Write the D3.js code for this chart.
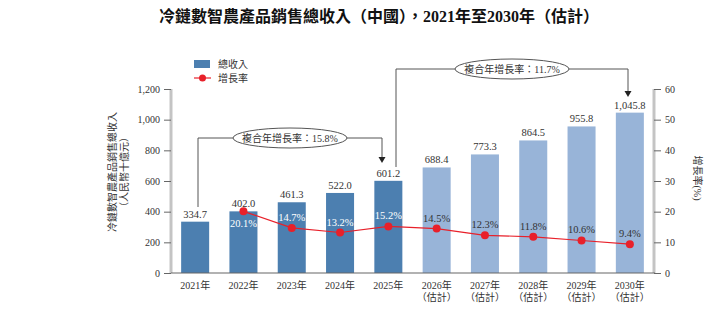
<!DOCTYPE html>
<html>
  <head>
    <meta charset="utf-8" />
    <script src="https://d3js.org/d3.v7.min.js"></script>
    <style>
      body { margin: 0; background: #fff; }
      text { font-family: "Liberation Serif", "Noto Sans CJK TC", serif; fill: #333; }
    </style>
  </head>
  <body>
    <div id="chart"></div>
    <script>
      // data
      var years = ["2021", "2022", "2023", "2024", "2025", "2026", "2027", "2028", "2029", "2030"];
      var estimated = [false, false, false, false, false, true, true, true, true, true];
      var revenue = [334.7, 402.0, 461.3, 522.0, 601.2, 688.4, 773.3, 864.5, 955.8, 1045.8];
      var growth = [null, 20.1, 14.7, 13.2, 15.2, 14.5, 12.3, 11.8, 10.6, 9.4];
      var leftTicks = [0, 200, 400, 600, 800, 1000, 1200];
      var rightTicks = [0, 10, 20, 30, 40, 50, 60];
      var cagrs = [
        { label: "複合年增長率：15.8%", from: 0, to: 4 },
        { label: "複合年增長率：11.7%", from: 4, to: 9 }
      ];

      var width = 728, height = 309;
      var pLeft = 171, pRight = 654, pTop = 89, pBottom = 273;

      var svg = d3.select("#chart").append("svg")
        .attr("width", width).attr("height", height);

      var x = d3.scaleBand().domain(years).range([pLeft, pRight]).paddingInner(0.42).paddingOuter(0.21);
      var y = d3.scaleLinear().domain([0, 1200]).range([pBottom, pTop]);
      var y2 = d3.scaleLinear().domain([0, 60]).range([pBottom, pTop]);
      var cx = function (i) { return x(years[i]) + x.bandwidth() / 2; };

      // title
      svg.append("text")
        .attr("x", 379).attr("y", 22)
        .attr("text-anchor", "middle")
        .style("font-size", "16px").style("font-weight", "bold").style("fill", "#111")
        .text("冷鏈數智農產品銷售總收入（中國），2021年至2030年（估計）");

      // bars
      svg.append("g").selectAll("rect")
        .data(revenue).enter().append("rect")
        .attr("x", function (d, i) { return x(years[i]); })
        .attr("y", function (d) { return y(d); })
        .attr("width", x.bandwidth())
        .attr("height", function (d) { return pBottom - y(d); })
        .attr("fill", function (d, i) { return estimated[i] ? "#98b4d8" : "#4c7fb0"; });

      // value labels
      svg.append("g").selectAll("text")
        .data(revenue).enter().append("text")
        .attr("x", function (d, i) { return cx(i); })
        .attr("y", function (d) { return y(d) - 4; })
        .attr("text-anchor", "middle")
        .style("font-size", "10.5px")
        .text(function (d) { return d3.format(",.1f")(d); });

      // axes
      var yAxis = svg.append("g").attr("transform", "translate(" + pLeft + ",0)")
        .call(d3.axisLeft(y).tickValues(leftTicks).tickSize(7).tickPadding(4).tickFormat(d3.format(",")));
      var y2Axis = svg.append("g").attr("transform", "translate(" + pRight + ",0)")
        .call(d3.axisRight(y2).tickValues(rightTicks).tickSize(7).tickPadding(4));
      [yAxis, y2Axis].forEach(function (g) {
        g.select(".domain").attr("stroke", "#c4c4c4").attr("stroke-width", 3)
          .attr("d", "M0," + pTop + "V" + pBottom);
        g.selectAll(".tick line").attr("stroke", "#666");
        g.selectAll(".tick text").style("font-size", "10px").style("fill", "#333")
          .style("font-family", "'Liberation Serif', serif");
      });

      svg.append("line")
        .attr("x1", pLeft).attr("x2", pRight + 1)
        .attr("y1", pBottom).attr("y2", pBottom)
        .attr("stroke", "#666").attr("stroke-width", 1.2);

      // x labels
      var xl = svg.append("g").selectAll("g").data(years).enter().append("g");
      xl.append("text")
        .attr("x", function (d, i) { return cx(i); })
        .attr("y", 289)
        .attr("text-anchor", "middle").style("font-size", "10px")
        .text(function (d) { return d + "年"; });
      xl.filter(function (d, i) { return estimated[i]; }).append("text")
        .attr("x", function (d) { return x(d) + x.bandwidth() / 2; })
        .attr("y", 301)
        .attr("text-anchor", "middle").style("font-size", "10px")
        .text("（估計）");

      // axis titles
      svg.append("text")
        .attr("transform", "translate(116,172) rotate(-90)")
        .attr("text-anchor", "middle").style("font-size", "10px")
        .text("冷鏈數智農產品銷售總收入");
      svg.append("text")
        .attr("transform", "translate(128,172) rotate(-90)")
        .attr("text-anchor", "middle").style("font-size", "10px")
        .text("（人民幣十億元）");
      svg.append("text")
        .attr("transform", "translate(694,178) rotate(90)")
        .attr("text-anchor", "middle").style("font-size", "10px")
        .text("增長率(%)");

      // growth line
      var pts = growth.map(function (d, i) { return { i: i, v: d }; }).filter(function (d) { return d.v !== null; });
      svg.append("path")
        .datum(pts)
        .attr("fill", "none").attr("stroke", "#e8202a").attr("stroke-width", 1.2)
        .attr("d", d3.line().x(function (d) { return cx(d.i); }).y(function (d) { return y2(d.v); }));
      svg.append("g").selectAll("circle").data(pts).enter().append("circle")
        .attr("cx", function (d) { return cx(d.i); })
        .attr("cy", function (d) { return y2(d.v); })
        .attr("r", 4).attr("fill", "#e8202a");
      svg.append("g").selectAll("text").data(pts).enter().append("text")
        .attr("x", function (d) { return cx(d.i); })
        .attr("y", function (d) { return d.i === 1 ? y2(d.v) + 16 : y2(d.v) - 7; })
        .attr("text-anchor", "middle").style("font-size", "10.5px")
        .style("fill", function (d) { return estimated[d.i] ? "#333" : "#fff"; })
        .text(function (d) { return d.v.toFixed(1) + "%"; });

      // CAGR annotations
      var ann = [
        { cy: 138, ex: 290, lx: 198, ly: 207, rx: 382, ry: 163 },
        { cy: 69, ex: 512, lx: 396, ly: 167, rx: 628, ry: 97 }
      ];
      ann.forEach(function (a, k) {
        var g = svg.append("g");
        g.append("path")
          .attr("fill", "none").attr("stroke", "#555").attr("stroke-width", 1)
          .attr("d", "M" + a.lx + "," + a.ly + "V" + a.cy + "H" + (a.ex - 57)
            + "M" + (a.ex + 57) + "," + a.cy + "H" + a.rx + "V" + (a.ry - 5));
        g.append("path")
          .attr("fill", "#222")
          .attr("d", "M" + (a.rx - 3.5) + "," + (a.ry - 6) + "L" + (a.rx + 3.5) + "," + (a.ry - 6) + "L" + a.rx + "," + a.ry + "Z");
        g.append("ellipse")
          .attr("cx", a.ex).attr("cy", a.cy).attr("rx", 57).attr("ry", 10)
          .attr("fill", "#fff").attr("stroke", "#555").attr("stroke-width", 1);
        g.append("text")
          .attr("x", a.ex).attr("y", a.cy + 3.5)
          .attr("text-anchor", "middle").style("font-size", "10px")
          .text(cagrs[k].label);
      });

      // legend
      var lg = svg.append("g");
      lg.append("rect").attr("x", 194).attr("y", 60).attr("width", 16).attr("height", 8).attr("fill", "#4c7fb0");
      lg.append("text").attr("x", 218).attr("y", 67.5).style("font-size", "10px").text("總收入");
      lg.append("line").attr("x1", 194).attr("x2", 211).attr("y1", 78).attr("y2", 78)
        .attr("stroke", "#e8202a").attr("stroke-width", 1.2);
      lg.append("circle").attr("cx", 202.5).attr("cy", 78).attr("r", 3.5).attr("fill", "#e8202a");
      lg.append("text").attr("x", 218).attr("y", 81.5).style("font-size", "10px").text("增長率");
    </script>
  </body>
</html>
